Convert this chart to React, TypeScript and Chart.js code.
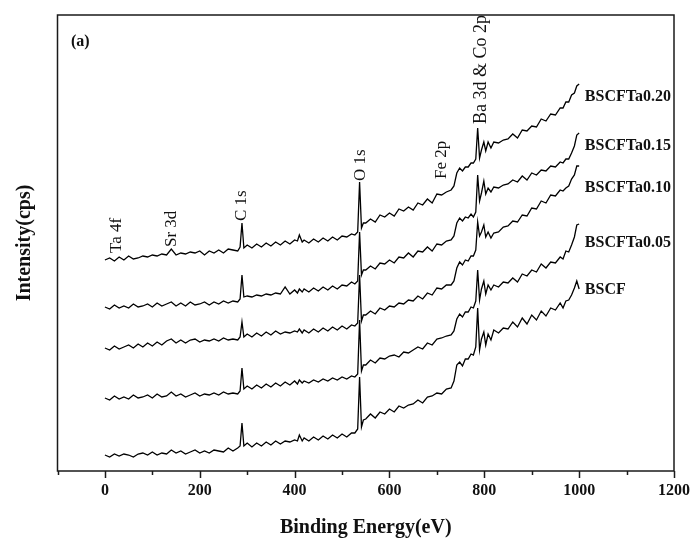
import React, { useEffect, useRef } from "react";
import { Chart, registerables } from "chart.js";
Chart.register(...registerables);

// Binding energy (eV) sample positions shared by all spectra
const energies = [0,10,20,30,40,50,60,70,80,90,100,110,120,130,140,150,160,170,180,190,200,210,220,230,240,250,260,270,
  280,285,289,293,300,
  310,320,330,340,350,360,370,380,390,400,
  406,410,416,
  420,430,440,450,460,470,480,490,500,510,520,
  527,533,537,541,545,
  550,560,570,580,590,600,610,620,630,640,650,660,670,680,690,700,710,720,730,
  736,742,748,754,760,
  766,772,777,782,786,790,794,799,803,808,814,
  820,830,840,850,860,870,880,890,900,910,920,930,940,950,960,
  966,972,978,984,990,995,1000];

// Stacked intensities (arbitrary units, offset per sample)
const bscf = [16,14,17,15,17,16,14,17,18,16,19,16,18,17,21,18,20,17,19,21,18,20,18,21,20,19,23,20,
  23,25,48,25,28,
  24,28,25,29,26,30,27,30,29,31,
  30,36,30,
  33,30,34,31,35,32,36,33,37,34,38,
  38,42,94,44,51,
  52,57,53,59,57,62,59,65,63,66,67,71,68,74,75,78,77,82,83,
  90,106,109,105,112,
  112,117,116,124,163,121,132,139,126,137,131,
  141,138,143,142,149,144,153,147,156,151,160,155,163,161,168,
  163,170,171,176,183,190,182];

const ta005 = [73,71,75,72,74,72,76,73,74,76,73,77,74,75,79,75,77,74,76,78,75,77,76,78,76,79,77,78,
  77,80,103,82,85,
  82,86,83,87,84,88,85,89,86,90,
  87,91,88,
  90,88,91,89,92,90,93,91,94,92,95,
  94,97,151,100,106,
  106,111,108,113,112,115,116,114,119,118,121,124,122,128,126,132,133,135,136,
  140,152,157,154,159,
  159,164,163,170,201,171,182,190,177,186,181,
  186,184,189,188,193,189,197,195,201,199,207,203,209,208,214,
  212,220,219,226,234,246,247];

const ta010 = [123,121,125,122,124,126,123,127,124,128,125,129,126,130,132,128,131,128,131,132,129,131,130,132,130,133,131,132,
  131,134,149,134,137,
  134,138,135,139,136,140,137,139,138,140,
  139,142,138,
  141,138,142,139,143,140,144,141,145,142,146,
  145,148,196,150,156,
  156,160,157,163,161,165,164,168,167,171,170,175,172,178,176,183,182,186,186,
  190,203,209,206,211,
  210,215,215,221,249,235,239,246,234,239,233,
  238,239,244,245,250,249,256,255,263,262,270,268,276,275,281,
  280,283,285,292,296,305,305];

const ta015 = [164,162,166,163,165,163,167,164,165,167,164,168,165,167,169,165,168,165,169,166,167,169,166,169,167,170,168,170,
  169,172,196,174,175,
  174,176,175,177,176,178,177,184,177,181,
  178,182,179,
  182,179,183,180,184,181,185,182,186,185,189,
  187,190,239,196,201,
  201,205,202,208,207,211,208,214,213,218,214,220,219,224,220,227,226,230,231,
  235,248,253,250,254,
  253,257,254,259,296,270,278,290,277,283,279,
  284,283,286,287,291,289,295,291,298,296,301,300,305,304,309,
  308,312,312,318,325,336,338];

const ta020 = [211,213,210,214,211,215,212,213,215,214,216,215,217,216,222,216,218,217,219,218,220,216,220,218,221,218,222,221,
  220,224,248,223,226,
  223,227,224,228,225,229,226,230,227,231,
  230,236,229,
  231,228,232,229,233,230,234,231,235,234,237,
  236,239,289,243,248,
  248,252,249,256,254,258,255,262,260,264,261,268,266,272,268,277,276,279,281,
  285,298,303,300,304,
  304,308,308,312,343,313,321,329,320,329,323,
  329,328,331,332,337,333,341,340,345,344,352,350,357,356,363,
  363,369,369,376,378,385,387];

const seriesNames = ["BSCF", "BSCFTa0.05", "BSCFTa0.10", "BSCFTa0.15", "BSCFTa0.20"];
const seriesValues = [bscf, ta005, ta010, ta015, ta020];
const seriesLabelLevels = [181, 228, 283, 325, 374];

const majorTicks = [0, 200, 400, 600, 800, 1000, 1200];
const minorTicks = [-100, 100, 300, 500, 700, 900, 1100];

const peakNames = ["Ta 4f", "Sr 3d", "C 1s", "O 1s", "Fe 2p", "Ba 3d & Co 2p"];
const peakEnergies = [25, 141, 289, 538, 709, 793];
const peakLevels = [218, 224, 250, 290, 292, 347];
const peakFontSizes = [17, 17, 17, 17, 17, 18];

const SERIF = '"Liberation Serif", "Times New Roman", serif';

const decor = {
  id: "decor",
  afterDraw(chart: any) {
    const { ctx, chartArea: a, scales } = chart;
    const xs = scales.x, ys = scales.y;
    ctx.save();
    ctx.strokeStyle = "#1a1a1a";
    ctx.lineWidth = 1.5;
    ctx.strokeRect(a.left, a.top, a.right - a.left, a.bottom - a.top);
    majorTicks.forEach((t) => {
      const px = Math.round(xs.getPixelForValue(t)) + 0.5;
      ctx.beginPath(); ctx.moveTo(px, a.bottom); ctx.lineTo(px, a.bottom + 7); ctx.stroke();
    });
    minorTicks.forEach((t) => {
      const px = Math.round(xs.getPixelForValue(t)) + 0.5;
      ctx.beginPath(); ctx.moveTo(px, a.bottom); ctx.lineTo(px, a.bottom + 4); ctx.stroke();
    });
    ctx.fillStyle = "#111";
    ctx.font = `bold 20px ${SERIF}`;
    ctx.textAlign = "center";
    ctx.textBaseline = "alphabetic";
    ctx.fillText("Binding Energy(eV)", (a.left + a.right) / 2, 533);
    ctx.save();
    ctx.translate(25, (a.top + a.bottom) / 2);
    ctx.rotate(-Math.PI / 2);
    ctx.textBaseline = "middle";
    ctx.fillText("Intensity(cps)", 0, 0);
    ctx.restore();
    ctx.font = `bold 16px ${SERIF}`;
    ctx.textAlign = "left";
    ctx.textBaseline = "middle";
    ctx.fillText("(a)", 71, 42);
    seriesNames.forEach((n, i) => {
      ctx.fillText(n, xs.getPixelForValue(1012), ys.getPixelForValue(seriesLabelLevels[i]));
    });
    peakNames.forEach((n, i) => {
      ctx.save();
      ctx.font = `${peakFontSizes[i]}px ${SERIF}`;
      ctx.translate(xs.getPixelForValue(peakEnergies[i]), ys.getPixelForValue(peakLevels[i]));
      ctx.rotate(-Math.PI / 2);
      ctx.textAlign = "left";
      ctx.textBaseline = "middle";
      ctx.fillText(n, 0, 0);
      ctx.restore();
    });
    ctx.restore();
  },
};

export default function App() {
  const ref = useRef<HTMLCanvasElement>(null);
  useEffect(() => {
    if (!ref.current) return;
    const chart = new Chart(ref.current, {
      type: "line",
      data: {
        datasets: seriesValues.map((vals, i) => ({
          label: seriesNames[i],
          data: energies.map((e, j) => ({ x: e, y: vals[j] })),
          borderColor: "#000",
          borderWidth: 1.3,
          pointRadius: 0,
          tension: 0,
          fill: false,
        })),
      },
      options: {
        animation: false,
        responsive: false,
        devicePixelRatio: 1,
        layout: { padding: { left: 57.5, top: 15, right: 21, bottom: 0 } },
        plugins: { legend: { display: false }, tooltip: { enabled: false } },
        scales: {
          x: {
            type: "linear",
            min: -100,
            max: 1200,
            afterBuildTicks: (s: any) => { s.ticks = majorTicks.map((v) => ({ value: v })); },
            afterFit: (s: any) => { s.height = 69; },
            grid: { display: false, drawTicks: true, tickLength: 7 },
            border: { display: false },
            ticks: {
              color: "#111",
              padding: 3,
              maxRotation: 0,
              autoSkip: false,
              callback: (v: any) => String(v),
              font: { family: SERIF, size: 16, weight: "bold" },
            },
          },
          y: { type: "linear", display: false, min: 0, max: 456 },
        },
      },
      plugins: [decor],
    });
    return () => chart.destroy();
  }, []);
  return (
    <div style={{ position: "absolute", left: 0, top: 0, width: 695, height: 540, background: "#fff" }}>
      <canvas ref={ref} width={695} height={540} />
    </div>
  );
}
